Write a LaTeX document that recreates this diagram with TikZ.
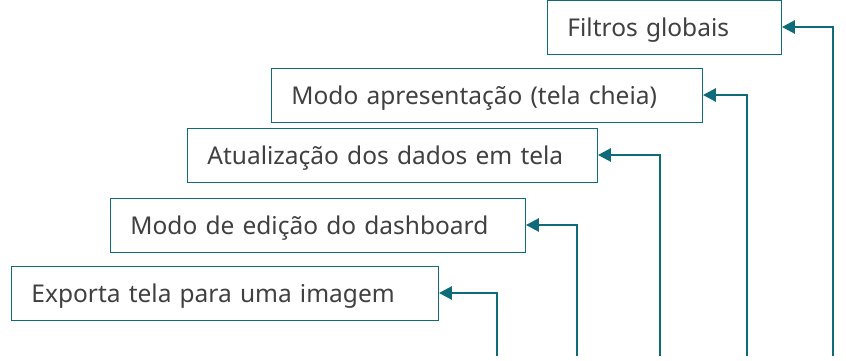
\documentclass[tikz,border=0pt]{standalone}
\usepackage{fontspec}
\setmainfont{Noto Sans}
\usetikzlibrary{arrows.meta}
\definecolor{Teal}{HTML}{0F6B78}
\definecolor{Texto}{HTML}{404040}
\tikzset{
	caixa/.style={draw=Teal, line width=0.9pt, anchor=west, minimum height=54pt,
		inner xsep=20pt, align=left, text depth=0pt, text=Texto,
		font=\fontsize{24.5}{29}\selectfont},
	seta/.style={draw=Teal, line width=2.6pt, -{Triangle[length=13pt,width=13pt]}}
}
\begin{document}
\begin{tikzpicture}[x=1pt,y=-1pt]
\useasboundingbox (0,0) rectangle (846,361);
%% Caixas
\node[caixa, text width=194pt] (filtros) at (547,27) {Filtros globais};
\node[caixa, text width=391pt] (apresentacao) at (271,95) {Modo apresentação (tela cheia)};
\node[caixa, text width=370pt] (atualizacao) at (187,155) {Atualização dos dados em tela};
\node[caixa, text width=375pt] (edicao) at (110,225) {Modo de edição do dashboard};
\node[caixa, text width=387pt] (exporta) at (11,293) {Exporta tela para uma imagem};
%% Setas
\coordinate (p1) at (497,356);
\coordinate (p2) at (577,356);
\coordinate (p3) at (660,356);
\coordinate (p4) at (747,356);
\coordinate (p5) at (833,356);
\draw[seta] (p1) |- (exporta.east);
\draw[seta] (p2) |- (edicao.east);
\draw[seta] (p3) |- (atualizacao.east);
\draw[seta] (p4) |- (apresentacao.east);
\draw[seta] (p5) |- (filtros.east);
\end{tikzpicture}
\end{document}
